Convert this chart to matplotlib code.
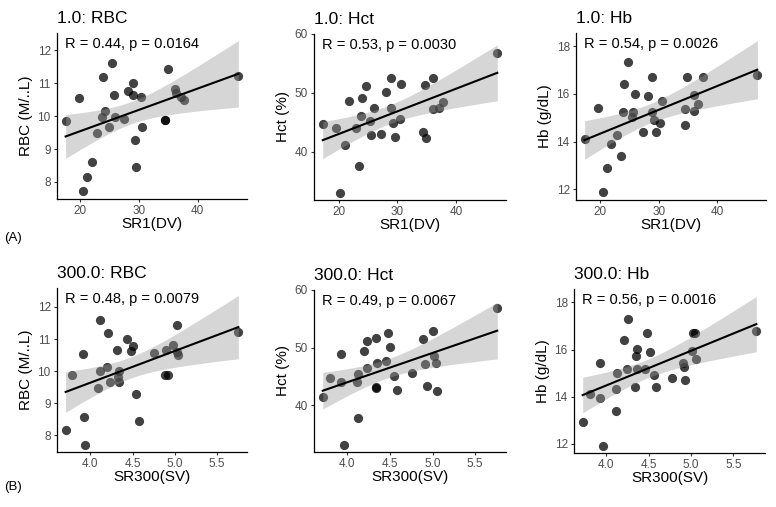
import numpy as np
import matplotlib
matplotlib.use("Agg")
import matplotlib.pyplot as plt

plt.rcParams['font.family'] = ['Liberation Sans', 'DejaVu Sans']

# ---------------- data ----------------
# Row A: SR1(DV)
sr1_rbc = [17.6, 19.8, 20.6, 21.3, 22.1, 23.0, 23.8, 24.0, 24.3, 24.9, 25.5, 25.8, 26.0, 27.5, 28.2,
           29.0, 29.1, 29.4, 29.6, 30.3, 30.6, 34.4, 34.4, 34.9, 36.2, 36.3, 37.1, 37.6, 46.9]
rbc_a = [9.86, 10.56, 7.71, 8.14, 8.59, 9.49, 9.98, 11.18, 10.14, 9.68, 11.60, 10.65, 9.98, 9.90, 10.77,
         11.01, 10.64, 9.27, 8.44, 10.57, 9.68, 9.88, 9.88, 11.43, 10.81, 10.69, 10.59, 10.50, 11.23]

sr1_hct = [17.3, 19.6, 20.2, 21.1, 21.8, 22.9, 23.5, 23.8, 24.0, 24.6, 25.4, 25.5, 26.0, 27.3, 28.1,
           28.9, 28.9, 29.3, 29.6, 30.4, 30.6, 34.4, 34.7, 34.8, 36.1, 36.1, 37.0, 37.7, 47.0]
hct_a = [44.8, 44.1, 33.1, 41.2, 48.6, 44.0, 37.6, 46.1, 49.2, 51.1, 45.3, 42.9, 47.4, 43.0, 50.1,
         52.6, 47.5, 44.9, 42.6, 45.6, 51.6, 43.4, 51.3, 42.4, 47.2, 52.6, 47.4, 48.4, 56.8]

sr1_hb = [17.3, 19.6, 20.45, 21.1, 21.9, 22.8, 23.6, 23.8, 24.1, 24.7, 25.4, 25.6, 25.9, 27.3, 28.1,
          28.8, 28.8, 29.2, 29.5, 30.2, 30.5, 34.5, 34.5, 34.8, 36.1, 36.1, 36.8, 37.5, 46.9]
hb_a = [14.10, 15.40, 11.87, 12.88, 13.89, 14.28, 13.40, 15.24, 16.42, 17.33, 15.05, 15.24, 16.00, 14.40, 15.90,
        16.72, 15.24, 14.90, 14.40, 14.77, 15.71, 14.68, 15.38, 16.71, 15.94, 15.30, 15.59, 16.71, 16.81]

# Row B: SR300(SV)
sr300_rbc = [3.71, 3.79, 3.92, 3.93, 3.94, 4.09, 4.11, 4.11, 4.20, 4.21, 4.23, 4.32, 4.33, 4.34, 4.34,
             4.43, 4.48, 4.50, 4.54, 4.58, 4.75, 4.89, 4.88, 4.92, 4.98, 5.02, 5.03, 5.04, 5.75]
rbc_b = [8.15, 9.87, 10.54, 8.58, 7.71, 9.48, 10.01, 11.59, 10.12, 11.18, 9.66, 10.67, 9.83, 9.66, 9.99,
         11.00, 10.64, 10.77, 9.28, 8.44, 10.56, 10.66, 9.87, 9.87, 10.81, 10.60, 11.44, 10.50, 11.22]

sr300_hct = [3.71, 3.80, 3.93, 3.93, 3.96, 4.11, 4.12, 4.12, 4.20, 4.23, 4.23, 4.33, 4.34, 4.34, 4.35,
             4.45, 4.48, 4.50, 4.55, 4.58, 4.76, 4.89, 4.91, 4.93, 5.00, 5.02, 5.04, 5.05, 5.76]
hct_b = [41.4, 44.8, 48.8, 44.0, 33.1, 44.0, 45.4, 37.7, 49.4, 51.1, 46.4, 43.1, 42.9, 51.6, 47.4,
         47.6, 52.6, 50.1, 45.0, 42.6, 45.6, 51.5, 47.1, 43.4, 52.8, 48.6, 47.4, 42.5, 56.9]

sr300_hb = [3.72, 3.81, 3.93, 3.93, 3.96, 4.11, 4.11, 4.13, 4.21, 4.24, 4.25, 4.34, 4.35, 4.36, 4.36,
            4.46, 4.48, 4.51, 4.56, 4.59, 4.77, 4.90, 4.92, 4.93, 5.01, 5.02, 5.05, 5.06, 5.77]
hb_b = [12.91, 14.11, 15.41, 13.93, 11.93, 13.40, 14.33, 15.00, 16.40, 15.18, 17.30, 14.42, 15.73, 16.01, 15.18,
        15.18, 16.70, 15.91, 14.92, 14.42, 14.79, 15.42, 15.28, 14.69, 15.95, 16.70, 16.70, 15.59, 16.79]

titles = ["1.0: RBC", "1.0: Hct", "1.0: Hb", "300.0: RBC", "300.0: Hct", "300.0: Hb"]
ylabels = ["RBC (M/..L)", "Hct (%)", "Hb (g/dL)"] * 2
xlabels = ["SR1(DV)"] * 3 + ["SR300(SV)"] * 3
stat_labels = ["R = 0.44, p = 0.0164", "R = 0.53, p = 0.0030", "R = 0.54, p = 0.0026",
               "R = 0.48, p = 0.0079", "R = 0.49, p = 0.0067", "R = 0.56, p = 0.0016"]
xticks_a = [20, 30, 40]
xticks_b = [4.0, 4.5, 5.0, 5.5]
yticks_rbc = [8, 9, 10, 11, 12]
yticks_hct = [40, 50, 60]
yticks_hb = [12, 14, 16, 18]
row_tags = ["(A)", "(B)"]

# ---------------- layout ----------------
W, H = 776, 507
fig = plt.figure(figsize=(W / 100, H / 100), dpi=100)

# pixel boxes (left, top, right, bottom)
boxes = [(57, 33, 247, 199), (314, 34, 506, 200), (576, 33, 766, 200),
         (57, 288, 247, 452), (314, 290, 506, 452), (574, 289, 765, 453)]

xs_list = [sr1_rbc, sr1_hct, sr1_hb, sr300_rbc, sr300_hct, sr300_hb]
ys_list = [rbc_a, hct_a, hb_a, rbc_b, hct_b, hb_b]
xt_list = [xticks_a] * 3 + [xticks_b] * 3
yt_list = [yticks_rbc, yticks_hct, yticks_hb] * 2

T975 = 2.052  # t quantile, df = 27

for i in range(6):
    l, t, r, b = boxes[i]
    ax = fig.add_axes([l / W, 1 - b / H, (r - l) / W, (b - t) / H])
    x = np.asarray(xs_list[i], float)
    y = np.asarray(ys_list[i], float)
    n = len(x)
    slope, icpt = np.polyfit(x, y, 1)
    resid = y - (slope * x + icpt)
    s = np.sqrt(np.sum(resid ** 2) / (n - 2))
    xm = x.mean()
    sxx = np.sum((x - xm) ** 2)
    gx = np.linspace(x.min(), x.max(), 100)
    gy = slope * gx + icpt
    se = s * np.sqrt(1 / n + (gx - xm) ** 2 / sxx)
    lo, hi = gy - T975 * se, gy + T975 * se

    ax.scatter(x, y, s=44, color='black', alpha=0.74, linewidths=0, zorder=1)
    ax.fill_between(gx, lo, hi, color='#999999', alpha=0.4, linewidth=0, zorder=2)
    ax.plot(gx, gy, color='black', lw=1.5, zorder=3)

    xr = x.max() - x.min()
    ax.set_xlim(x.min() - 0.05 * xr, x.max() + 0.05 * xr)
    ymin = min(y.min(), lo.min())
    ymax = max(y.max(), hi.max())
    yr = ymax - ymin
    ax.set_ylim(ymin - 0.05 * yr, ymax + 0.05 * yr)

    ax.set_xticks(xt_list[i])
    ax.set_yticks(yt_list[i])
    if i >= 3:
        ax.set_xticklabels([f"{v:.1f}" for v in xt_list[i]])
    for sp in ['top', 'right']:
        ax.spines[sp].set_visible(False)
    for sp in ['left', 'bottom']:
        ax.spines[sp].set_linewidth(0.9)
        ax.spines[sp].set_color('black')
    ax.tick_params(length=2.5, width=0.8, color='#333333', labelcolor='#4d4d4d',
                   labelsize=8.5, pad=2)
    ax.set_xlabel(xlabels[i], fontsize=11, labelpad=0)
    ax.set_ylabel(ylabels[i], fontsize=11, labelpad=3)
    ax.set_title(titles[i], loc='left', fontsize=12.5, pad=7)
    ax.text(0.04, 0.935, stat_labels[i], transform=ax.transAxes, fontsize=10.5,
            ha='left', va='center', zorder=5)

fig.text(4 / W, 1 - 238 / H, row_tags[0], fontsize=9.5, ha='left', va='center')
fig.text(4 / W, 1 - 487 / H, row_tags[1], fontsize=9.5, ha='left', va='center')

fig.savefig("out.png", dpi=100)
